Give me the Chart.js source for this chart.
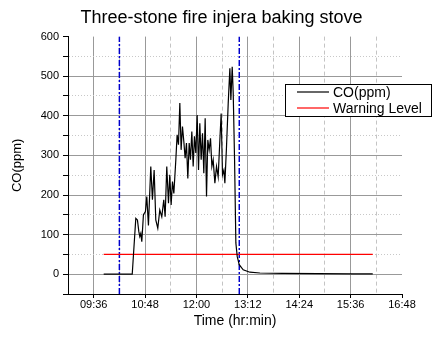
<!DOCTYPE html>
<html><head><meta charset="utf-8">
<script src="https://cdn.jsdelivr.net/npm/chart.js@4"></script>
<style>html,body{margin:0;padding:0;background:#fff}</style>
</head><body>
<canvas id="c" width="443" height="338"></canvas>
<script>
// ---- data (time = minutes after 09:00) ----
const axisStart = '09:00';
const axisEnd = '16:48';
const tickLabels = ['09:36', '10:48', '12:00', '13:12', '14:24', '15:36', '16:48'];
const yTickValues = [0, 100, 200, 300, 400, 500, 600];

const coTime = [50, 90, 95.0, 97.3, 99.2, 100.6, 102.0, 103.4, 105.7, 108.5, 110.4, 112.7, 116.0, 118.3,
  120.7, 123.0, 125.8, 128.6, 131.4, 134.2, 136.1, 138.4, 140.8, 142.6, 144.5, 146.4, 148.3, 151.1,
  152.9, 154.8, 156.7, 158.5, 160.4, 162.3, 164.1, 166.0, 167.9, 169.8, 171.6, 173.5, 175.4, 177.2,
  179.1, 181.0, 182.9, 184.7, 186.6, 188.5, 190.3, 192.2, 194.1, 195.9, 197.8, 199.7, 201.6, 203.4,
  205.8, 208.1, 210.4, 212.8, 214.6, 216.5, 218.4, 219.8, 222.1, 224.5, 226.8, 228.2, 230.1, 231.5,
  233.4, 235.2, 237.1, 239.9, 245.5, 254.8, 268.9, 300, 350, 400, 427];
const coValue = [0, 0, 141, 137, 108, 95, 103, 82, 150, 158, 196, 123, 272, 188,
  263, 137, 116, 162, 145, 188, 145, 272, 179, 251, 175, 234, 204, 289,
  352, 327, 432, 314, 373, 335, 293, 331, 242, 331, 289, 360, 272, 348,
  306, 402, 263, 381, 289, 356, 255, 394, 196, 339, 314, 343, 272, 289,
  230, 272, 246, 339, 406, 251, 263, 230, 322, 432, 520, 440, 524, 457,
  289, 79, 45, 24, 11, 5, 3, 2, 1.5, 1, 1];

const warnTime = [50, 427];
const warnValue = [50, 50];

const markerTime = [72, 240];   // 10:12 and 13:00
const markerRange = [-50, 600];

const seriesLabels = ['CO(ppm)', 'Warning Level'];

// ---- helpers ----
const toMin = s => { const [h, m] = s.split(':').map(Number); return h * 60 + m; };
const base = toMin(axisStart);
const fmt = v => { const t = base + v; const h = Math.floor(t / 60), m = Math.round(t % 60);
  return String(h).padStart(2, '0') + ':' + String(m).padStart(2, '0'); };
const majorX = tickLabels.map(s => toMin(s) - base);
const xMax = toMin(axisEnd) - base;
const allX = [];
for (let v = 0; v <= xMax; v += 36) allX.push(v);
const isMajorX = v => majorX.includes(v);

const pts = (xs, ys) => xs.map((x, i) => ({x, y: ys[i]}));

Chart.defaults.font.family = '"Liberation Sans", Arial, sans-serif';
Chart.defaults.color = '#000';

const legendBox = {
  id: 'legendBox',
  afterDraw(chart) {
    const ctx = chart.ctx;
    const L = 285, T = 84, R = 431, B = 116;
    ctx.save();
    ctx.fillStyle = '#fff';
    ctx.fillRect(L, T, R - L, B - T);
    ctx.strokeStyle = '#000';
    ctx.lineWidth = 1;
    ctx.strokeRect(L + 0.5, T + 0.5, R - L, B - T);
    const rows = [chart.data.datasets[0], chart.data.datasets[1]];
    ctx.font = '14px "Liberation Sans", Arial, sans-serif';
    ctx.textBaseline = 'middle';
    rows.forEach((ds, i) => {
      const y = T + 8 + i * 16;
      ctx.strokeStyle = ds.borderColor;
      ctx.lineWidth = 1.2;
      ctx.beginPath(); ctx.moveTo(297, y); ctx.lineTo(329, y); ctx.stroke();
      ctx.fillStyle = '#000';
      ctx.fillText(ds.label, 333, y + 1);
    });
    ctx.restore();
  }
};

new Chart(document.getElementById('c'), {
  type: 'line',
  data: {
    datasets: [
      { label: seriesLabels[0], data: pts(coTime, coValue), borderColor: '#000', borderWidth: 1.2,
        pointRadius: 0, tension: 0 },
      { label: seriesLabels[1], data: pts(warnTime, warnValue), borderColor: '#ff0000', borderWidth: 1.2,
        pointRadius: 0 },
      { label: 'm1', data: pts([markerTime[0], markerTime[0]], markerRange), borderColor: '#0000cc',
        borderWidth: 1.5, borderDash: [6, 2, 2, 2], pointRadius: 0 },
      { label: 'm2', data: pts([markerTime[1], markerTime[1]], markerRange), borderColor: '#0000cc',
        borderWidth: 1.5, borderDash: [6, 2, 2, 2], pointRadius: 0 }
    ]
  },
  options: {
    responsive: false,
    animation: false,
    layout: { padding: 0 },
    plugins: {
      legend: { display: false },
      tooltip: { enabled: false },
      title: { display: true, text: 'Three-stone fire injera baking stove',
        font: { size: 18, weight: 'normal' }, color: '#000', padding: { top: 7, bottom: 8 } }
    },
    scales: {
      x: {
        type: 'linear', min: 0, max: xMax,
        afterBuildTicks: s => { s.ticks = allX.map(v => ({value: v})); },
        afterFit: s => { s.height = 44; },
        ticks: { autoSkip: false, maxRotation: 0, padding: 0, font: { size: 11 }, color: '#000',
          callback: v => isMajorX(v) ? fmt(v) : '' },
        grid: {
          color: c => { if (c.type !== 'tick') return '#999'; const v = c.tick.value;
            if (v === 0 || v === xMax) return 'rgba(0,0,0,0)'; return isMajorX(v) ? '#999' : '#c4c4c4'; },
          lineWidth: 1, tickLength: 4,
          tickColor: c => (c.tick && isMajorX(c.tick.value)) ? '#000' : 'rgba(0,0,0,0)'
        },
        border: { display: true, color: '#000', width: 1,
          dash: c => (c.type === 'tick' && c.tick && !isMajorX(c.tick.value)) ? [4, 3] : [] },
        title: { display: true, text: 'Time (hr:min)', font: { size: 14 }, color: '#000',
          padding: { top: 0, bottom: 8 } }
      },
      y: {
        min: -50, max: 600,
        ticks: { stepSize: 50, padding: 4, font: { size: 11 }, color: '#000',
          callback: v => yTickValues.includes(v) ? String(v) : '' },
        afterFit: s => { s.width = 68; },
        grid: {
          color: c => { if (c.type !== 'tick') return '#999'; const v = c.tick.value;
            if (v === -50 || v === 600) return 'rgba(0,0,0,0)';
            return yTickValues.includes(v) ? '#999' : '#c8c8c8'; },
          lineWidth: 1, tickLength: 5, tickColor: '#000'
        },
        border: { display: true, color: '#000', width: 1,
          dash: c => (c.type === 'tick' && c.tick && !yTickValues.includes(c.tick.value)) ? [1, 2] : [] },
        title: { display: true, text: 'CO(ppm)', font: { size: 13 }, color: '#000',
          padding: { top: 10, bottom: 0 } }
      },
      yRight: {
        position: 'right', min: -50, max: 600,
        ticks: { display: false },
        grid: { display: false, drawOnChartArea: false },
        border: { display: false },
        afterFit: s => { s.width = 41; }
      }
    }
  },
  plugins: [legendBox]
});
</script>
</body></html>
